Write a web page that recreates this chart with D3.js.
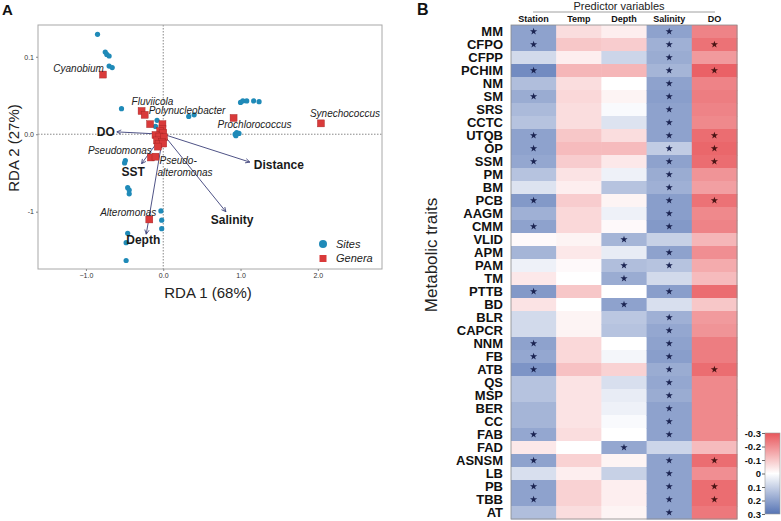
<!DOCTYPE html>
<html>
<head>
<meta charset="utf-8">
<script src="https://cdn.jsdelivr.net/npm/d3@7.9.0/dist/d3.min.js"></script>
<style>
  body { margin: 0; background: #fff; }
  svg { font-family: "Liberation Sans", Arial, sans-serif; display: block; }
</style>
</head>
<body>
<svg id="chart" width="781" height="521"></svg>
<script>
// ---------- Panel A data (RDA biplot) ----------
const siteX = [-0.85, -0.75, -0.73, -0.70, -0.70, -0.66, -0.54, -0.08, -0.10, 0.33, 0.40,
  1.00, 1.03, 1.08, 1.17, 1.24, 0.93, 0.95, 0.98, 0.94, -0.49, -0.50, -0.46, -0.44, -0.44,
  -0.03, -0.02, -0.02, -0.46, -0.48, -0.48];
const siteY = [1.29, 1.06, 1.03, 1.01, 0.88, 0.86, 0.33, 0.18, 0.10, 0.23, 0.25,
  0.41, 0.43, 0.43, 0.43, 0.42, 0.00, 0.02, 0.01, -0.02, -0.34, -0.37, -0.69, -0.72, -0.77,
  -0.99, -1.11, -1.22, -1.28, -1.40, -1.63];

const genusNames = ['Cyanobium', 'Fluviicola', 'Polynucleobacter', 'Prochlorococcus',
  'Synechococcus', 'Pseudomonas', 'Pseudoalteromonas', 'Alteromonas',
  '', '', '', '', '', '', '', '', '', '', '', '', ''];
const genusX = [-0.78, -0.28, -0.24, 0.91, 2.04, -0.16, -0.10, -0.18,
  -0.17, -0.01, -0.01, -0.04, 0.00, -0.10, -0.05, 0.01, -0.08, -0.02, -0.06, 0.00, -0.07];
const genusY = [0.77, 0.30, 0.25, 0.21, 0.14, -0.30, -0.29, -1.10,
  0.13, 0.13, 0.07, 0.04, 0.02, -0.01, -0.03, -0.04, -0.08, -0.10, -0.13, -0.12, -0.16];

const envNames = ['DO', 'Distance', 'Salinity', 'Depth', 'SST'];
const envX = [-0.60, 1.12, 0.81, -0.22, -0.28];
const envY = [0.03, -0.36, -1.00, -1.29, -0.38];

const xTicks = [-1, 0, 1, 2];
const yTicks = [1, 0, -1];
const yTickLabels = ['0.1', '0.0', '-1'];

// ---------- Panel B data (heatmap) ----------
const traits = ['MM', 'CFPO', 'CFPP', 'PCHIM', 'NM', 'SM', 'SRS', 'CCTC', 'UTQB', 'OP', 'SSM',
  'PM', 'BM', 'PCB', 'AAGM', 'CMM', 'VLID', 'APM', 'PAM', 'TM', 'PTTB', 'BD', 'BLR', 'CAPCR',
  'NNM', 'FB', 'ATB', 'QS', 'MSP', 'BER', 'CC', 'FAB', 'FAD', 'ASNSM', 'LB', 'PB', 'TBB', 'AT'];
const predictors = ['Station', 'Temp', 'Depth', 'Salinity', 'DO'];

const stationVals = [0.20, 0.20, 0.08, 0.25, 0.14, 0.18, 0.15, 0.13, 0.20, 0.20, 0.19,
  0.13, 0.06, 0.22, 0.17, 0.20, -0.01, 0.16, 0.03, -0.04, 0.22, -0.05, 0.08, 0.08,
  0.20, 0.19, 0.23, 0.13, 0.13, 0.16, 0.16, 0.19, -0.04, 0.20, 0.07, 0.20, 0.20, 0.14];
const tempVals = [-0.06, -0.10, -0.03, -0.13, -0.06, -0.07, -0.06, -0.06, -0.10, -0.12, -0.09,
  -0.05, -0.03, -0.09, -0.07, -0.07, -0.02, -0.04, -0.01, 0.00, -0.10, 0.00, -0.02, -0.02,
  -0.07, -0.07, -0.11, -0.05, -0.05, -0.05, -0.05, -0.06, 0.00, -0.08, -0.03, -0.08, -0.08, -0.06];
const depthVals = [-0.03, -0.09, 0.09, -0.13, 0.00, -0.02, 0.01, 0.06, -0.06, -0.12, -0.04,
  0.03, 0.13, -0.02, 0.03, -0.01, 0.16, 0.04, 0.14, 0.18, 0.00, 0.20, 0.12, 0.13,
  0.00, 0.02, -0.08, 0.07, 0.04, 0.03, 0.01, 0.00, 0.19, -0.02, 0.10, -0.03, -0.03, -0.02];
const salinityVals = [0.20, 0.17, 0.18, 0.16, 0.20, 0.21, 0.20, 0.20, 0.20, 0.11, 0.20,
  0.18, 0.17, 0.21, 0.21, 0.22, 0.10, 0.20, 0.13, 0.08, 0.21, 0.07, 0.17, 0.19,
  0.20, 0.21, 0.18, 0.19, 0.18, 0.20, 0.20, 0.20, 0.09, 0.20, 0.20, 0.20, 0.20, 0.20];
const doVals = [-0.22, -0.25, -0.18, -0.28, -0.22, -0.23, -0.22, -0.21, -0.26, -0.27, -0.26,
  -0.19, -0.17, -0.25, -0.21, -0.22, -0.13, -0.20, -0.15, -0.12, -0.26, -0.10, -0.18, -0.19,
  -0.23, -0.23, -0.26, -0.21, -0.21, -0.21, -0.21, -0.21, -0.12, -0.26, -0.20, -0.26, -0.26, -0.24];

// significance stars (trait names per predictor)
const starStation = ['MM', 'CFPO', 'PCHIM', 'SM', 'UTQB', 'OP', 'SSM', 'PCB', 'CMM', 'PTTB',
  'NNM', 'FB', 'ATB', 'FAB', 'ASNSM', 'PB', 'TBB'];
const starTemp = [];
const starDepth = ['VLID', 'PAM', 'TM', 'BD', 'FAD'];
const starSalinity = traits.filter(t => !['VLID', 'TM', 'BD', 'FAD'].includes(t));
const starDO = ['CFPO', 'PCHIM', 'UTQB', 'OP', 'SSM', 'PCB', 'ATB', 'ASNSM', 'PB', 'TBB'];

const legendTicks = [-0.3, -0.2, -0.1, 0, 0.1, 0.2, 0.3];
const legendLabels = ['-0.3', '-0.2', '-0.1', '0', '0.1', '0.2', '0.3'];

const svg = d3.select('#chart');

// =============== Panel A ===============
const A = { left: 38, right: 382, top: 25, bottom: 269 };
const x = d3.scaleLinear().domain([-1.62, 2.83]).range([A.left, A.right]);
const y = d3.scaleLinear().domain([-1.74, 1.41]).range([A.bottom, A.top]);

const gA = svg.append('g');

gA.append('text').attr('x', 2).attr('y', 15).attr('font-size', 15).attr('font-weight', 'bold')
  .attr('fill', '#111').text('A');

// zero lines
gA.append('line').attr('x1', x(0)).attr('x2', x(0)).attr('y1', A.top).attr('y2', A.bottom)
  .attr('stroke', '#888').attr('stroke-dasharray', '1.5,1.5');
gA.append('line').attr('x1', A.left).attr('x2', A.right).attr('y1', y(0)).attr('y2', y(0))
  .attr('stroke', '#888').attr('stroke-dasharray', '1.5,1.5');

// frame
gA.append('rect').attr('x', A.left).attr('y', A.top).attr('width', A.right - A.left)
  .attr('height', A.bottom - A.top).attr('fill', 'none').attr('stroke', '#a8a8a8');

const xAxis = gA.append('g').attr('transform', `translate(0,${A.bottom})`)
  .call(d3.axisBottom(x).tickValues(xTicks).tickSize(2).tickPadding(2));
const yAxis = gA.append('g').attr('transform', `translate(${A.left},0)`)
  .call(d3.axisLeft(y).tickValues(yTicks).tickSize(2).tickPadding(2)
    .tickFormat((d, i) => yTickLabels[i]));
[xAxis, yAxis].forEach(ax => {
  ax.select('.domain').remove();
  ax.selectAll('line').attr('stroke', '#888');
  ax.selectAll('text').attr('font-size', 7).attr('fill', '#333')
    .attr('font-family', '"Liberation Sans", Arial, sans-serif');
});

gA.append('text').attr('x', 208).attr('y', 298).attr('text-anchor', 'middle')
  .attr('font-size', 15).attr('fill', '#222').text('RDA 1 (68%)');
gA.append('text').attr('transform', `translate(19,148) rotate(-90)`).attr('text-anchor', 'middle')
  .attr('font-size', 15).attr('fill', '#222').text('RDA 2 (27%)');

// sites
gA.selectAll('circle.site').data(siteX).join('circle').attr('class', 'site')
  .attr('cx', d => x(d)).attr('cy', (d, i) => y(siteY[i])).attr('r', 2.6)
  .attr('fill', '#1f8ab8');

// arrows
const defs = svg.append('defs');
defs.append('marker').attr('id', 'arr').attr('viewBox', '0 0 10 10').attr('refX', 9).attr('refY', 5)
  .attr('markerWidth', 6).attr('markerHeight', 6).attr('orient', 'auto-start-reverse')
  .append('path').attr('d', 'M1,1 L9,5 L1,9').attr('fill', 'none').attr('stroke', '#3b3f78')
  .attr('stroke-width', 1.5);

gA.selectAll('line.env').data(envX).join('line').attr('class', 'env')
  .attr('x1', x(0)).attr('y1', y(0)).attr('x2', d => x(d)).attr('y2', (d, i) => y(envY[i]))
  .attr('stroke', '#3b3f78').attr('stroke-width', 0.9).attr('marker-end', 'url(#arr)');

// genera squares
const sq = 7;
gA.selectAll('rect.genus').data(genusX).join('rect').attr('class', 'genus')
  .attr('x', d => x(d) - sq / 2).attr('y', (d, i) => y(genusY[i]) - sq / 2)
  .attr('width', sq).attr('height', sq).attr('fill', '#d93a3a')
  .attr('stroke', '#a02424').attr('stroke-width', 0.4);

// genus labels: [dx, dy, anchor]
const genusLabelPos = {
  Cyanobium: [1, -2.5, 'end'],
  Fluviicola: [-10, -5.5, 'start'],
  Polynucleobacter: [4, -1, 'start'],
  Prochlorococcus: [-16, 10, 'start'],
  Synechococcus: [-11, -6, 'start'],
  Pseudomonas: [1, -3, 'end'],
  Alteromonas: [7, -3.5, 'end']
};
genusNames.forEach((name, i) => {
  if (!name) return;
  const px = x(genusX[i]), py = y(genusY[i]);
  if (name === 'Pseudoalteromonas') {
    const t = gA.append('text').attr('font-size', 10).attr('font-style', 'italic').attr('fill', '#222');
    t.append('tspan').attr('x', px + 4).attr('y', py + 7).text('Pseudo-');
    t.append('tspan').attr('x', px + 2).attr('y', py + 19).text('alteromonas');
    return;
  }
  const [dx, dy, anchor] = genusLabelPos[name];
  gA.append('text').attr('x', px + dx).attr('y', py + dy).attr('text-anchor', anchor)
    .attr('font-size', 10).attr('font-style', 'italic').attr('fill', '#222').text(name);
});

// env labels
const envLabelPos = {
  DO: [-2, 4.5, 'end'],
  Distance: [4, 7, 'start'],
  Salinity: [-15, 12, 'start'],
  Depth: [-20, 10, 'start'],
  SST: [-20, 12, 'start']
};
envNames.forEach((name, i) => {
  const [dx, dy, anchor] = envLabelPos[name];
  gA.append('text').attr('x', x(envX[i]) + dx).attr('y', y(envY[i]) + dy)
    .attr('text-anchor', anchor).attr('font-size', 12).attr('font-weight', 'bold')
    .attr('fill', '#1a1a1a').text(name);
});

// legend
const lg = gA.append('g').attr('transform', 'translate(323,244)');
lg.append('circle').attr('cx', 0).attr('cy', 0).attr('r', 4).attr('fill', '#1f8ab8');
lg.append('text').attr('x', 13).attr('y', 4).attr('font-size', 11).attr('font-style', 'italic')
  .attr('fill', '#222').text('Sites');
lg.append('rect').attr('x', -3.5).attr('y', 11).attr('width', 7).attr('height', 7).attr('fill', '#d93a3a');
lg.append('text').attr('x', 13).attr('y', 18).attr('font-size', 11).attr('font-style', 'italic')
  .attr('fill', '#222').text('Genera');

// =============== Panel B ===============
const B = { left: 511, right: 737, top: 25, bottom: 519 };
const colScale = d3.scaleBand().domain(predictors).range([B.left, B.right]);
const rowScale = d3.scaleBand().domain(traits).range([B.top, B.bottom]);
const color = d3.scaleLinear().domain([-0.3, 0, 0.3])
  .range(['#e8565b', '#ffffff', '#5674b4']).clamp(true);

const seriesVals = [stationVals, tempVals, depthVals, salinityVals, doVals];
const seriesStars = [starStation, starTemp, starDepth, starSalinity, starDO];

const cells = [];
predictors.forEach((p, j) => {
  traits.forEach((t, i) => {
    cells.push({ p, t, v: seriesVals[j][i], star: seriesStars[j].includes(t) });
  });
});

const gB = svg.append('g');
gB.append('text').attr('x', 417).attr('y', 15).attr('font-size', 16).attr('font-weight', 'bold')
  .attr('fill', '#111').text('B');

gB.selectAll('rect.cell').data(cells).join('rect').attr('class', 'cell')
  .attr('x', d => colScale(d.p)).attr('y', d => rowScale(d.t))
  .attr('width', colScale.bandwidth() + 0.5).attr('height', rowScale.bandwidth() + 0.5)
  .attr('fill', d => color(d.v));

gB.selectAll('path.star').data(cells.filter(d => d.star)).join('path').attr('class', 'star')
  .attr('d', d3.symbol(d3.symbolStar, 16))
  .attr('transform', d => `translate(${colScale(d.p) + colScale.bandwidth() / 2},${rowScale(d.t) + rowScale.bandwidth() / 2})`)
  .attr('fill', d => d.v < 0 ? '#4a1414' : '#1b2452');

gB.append('rect').attr('x', B.left).attr('y', B.top).attr('width', B.right - B.left)
  .attr('height', B.bottom - B.top).attr('fill', 'none').attr('stroke', '#8a8a8a').attr('stroke-width', 0.8);

// row labels
gB.selectAll('text.row').data(traits).join('text').attr('class', 'row')
  .attr('x', 503).attr('y', d => rowScale(d) + rowScale.bandwidth() / 2 + 4.7)
  .attr('text-anchor', 'end').attr('font-size', 13).attr('font-weight', 'bold')
  .attr('fill', '#111').text(d => d);

// column headers
gB.selectAll('text.col').data(predictors).join('text').attr('class', 'col')
  .attr('x', d => colScale(d) + colScale.bandwidth() / 2).attr('y', 22)
  .attr('text-anchor', 'middle').attr('font-size', 9).attr('font-weight', 'bold')
  .attr('fill', '#111').text(d => d);

gB.append('text').attr('x', 619).attr('y', 9.5).attr('text-anchor', 'middle')
  .attr('font-size', 11).attr('fill', '#222').text('Predictor variables');
gB.append('line').attr('x1', 533).attr('x2', 715).attr('y1', 12).attr('y2', 12)
  .attr('stroke', '#888').attr('stroke-width', 0.8);

gB.append('text').attr('transform', 'translate(437,255) rotate(-90)').attr('text-anchor', 'middle')
  .attr('font-size', 17).attr('fill', '#222').text('Metabolic traits');

// color legend
const legScale = d3.scaleLinear().domain([-0.3, 0.3]).range([433, 514]);
const grad = defs.append('linearGradient').attr('id', 'grad')
  .attr('x1', 0).attr('y1', 0).attr('x2', 0).attr('y2', 1);
legendTicks.forEach((v, i) => {
  grad.append('stop').attr('offset', i / (legendTicks.length - 1)).attr('stop-color', color(v));
});
gB.append('rect').attr('x', 765).attr('y', legScale(-0.3)).attr('width', 15)
  .attr('height', legScale(0.3) - legScale(-0.3)).attr('fill', 'url(#grad)')
  .attr('stroke', '#999').attr('stroke-width', 0.6);
const legAxis = gB.append('g').attr('transform', 'translate(765,0)')
  .call(d3.axisLeft(legScale).tickValues(legendTicks).tickSize(3).tickPadding(1)
    .tickFormat((d, i) => legendLabels[i]));
legAxis.select('.domain').remove();
legAxis.selectAll('line').attr('stroke', '#666');
legAxis.selectAll('text').attr('font-size', 9.5).attr('font-weight', 'bold').attr('fill', '#111')
  .attr('font-family', '"Liberation Sans", Arial, sans-serif');
</script>
</body>
</html>
